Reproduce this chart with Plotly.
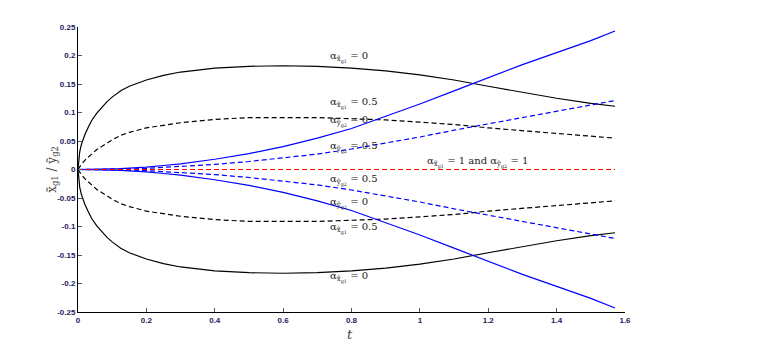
import plotly.graph_objects as go

# sample times (0 .. pi/2)
t = [0, 0.002, 0.005, 0.01, 0.02, 0.03, 0.04, 0.055, 0.07, 0.085, 0.1, 0.125, 0.15,
     0.2, 0.25, 0.3, 0.4, 0.5, 0.6, 0.7, 0.8, 0.9, 1.0, 1.1, 1.2, 1.3, 1.4, 1.5, 1.5708]

# alpha_x = 0 (solid black) and alpha_x = 0.5 (dashed black), upper branch
x_a0 = [0, 0.020, 0.031, 0.044, 0.061, 0.074, 0.086, 0.099, 0.110, 0.119, 0.127, 0.138, 0.146,
        0.157, 0.165, 0.171, 0.178, 0.181, 0.182, 0.181, 0.178, 0.173, 0.166, 0.157, 0.146,
        0.135, 0.125, 0.116, 0.111]
x_a05 = [0, 0.002, 0.005, 0.009, 0.016, 0.022, 0.027, 0.035, 0.041, 0.047, 0.052, 0.060, 0.065,
         0.073, 0.078, 0.082, 0.088, 0.091, 0.091, 0.091, 0.089, 0.087, 0.083, 0.079, 0.073,
         0.068, 0.063, 0.058, 0.055]
# alpha_y = 0 (solid blue) and alpha_y = 0.5 (dashed blue), upper branch
y_a0 = [0, 0, 0, 0, 0, 0, 0.0001, 0.0002, 0.0004, 0.0006, 0.001, 0.0015, 0.002,
        0.004, 0.007, 0.010, 0.018, 0.028, 0.040, 0.055, 0.072, 0.093, 0.115, 0.138, 0.161,
        0.184, 0.205, 0.226, 0.243]
y_a05 = [0, 0, 0, 0, 0, 0, 0, 0.0001, 0.0002, 0.0003, 0.0005, 0.0008, 0.001,
         0.002, 0.0035, 0.005, 0.009, 0.014, 0.020, 0.027, 0.036, 0.046, 0.057, 0.069, 0.080,
         0.092, 0.102, 0.113, 0.121]
# alpha = 1 : zero line
zero = [0] * len(t)

x_ticks = [0, 0.2, 0.4, 0.6, 0.8, 1, 1.2, 1.4, 1.6]
y_ticks = [-0.25, -0.2, -0.15, -0.1, -0.05, 0, 0.05, 0.1, 0.15, 0.2, 0.25]

XS = "α<sub>x̃<sub>g1</sub></sub>"
YS = "α<sub>ỹ<sub>g2</sub></sub>"
labels = [
    (0.73, 0.196, XS + " = 0"),
    (0.73, 0.116, XS + " = 0.5"),
    (0.73, 0.085, YS + " = 0"),
    (0.73, 0.039, YS + " = 0.5"),
    (1.016, 0.012, XS + " = 1 and " + YS + " = 1"),
    (0.73, -0.019, YS + " = 0.5"),
    (0.73, -0.060, YS + " = 0"),
    (0.73, -0.104, XS + " = 0.5"),
    (0.73, -0.190, XS + " = 0"),
]

fig = go.Figure()

dash = "5px,3px"
series = [
    (x_a0, "black", "solid"),
    (x_a05, "black", dash),
    (y_a0, "#0000ff", "solid"),
    (y_a05, "#0000ff", dash),
]
for vals, col, d in series:
    fig.add_trace(go.Scatter(x=t, y=vals, mode="lines", line=dict(color=col, width=1.2, dash=d)))
    fig.add_trace(go.Scatter(x=t, y=[-v for v in vals], mode="lines",
                             line=dict(color=col, width=1.2, dash=d)))

fig.add_trace(go.Scatter(x=t, y=zero, mode="lines", line=dict(color="#ff0000", width=1.1, dash=dash)))

for lx, ly, txt in labels:
    fig.add_annotation(x=lx, y=ly, text=txt, showarrow=False, xanchor="left", yanchor="middle",
                       font=dict(family="DejaVu Serif", size=10, color="#222222"))

# axis titles
fig.add_annotation(x=-0.047, y=0.5, xref="paper", yref="paper", text="x̃<sub>g1</sub> / ỹ<sub>g2</sub>",
                   textangle=-90, showarrow=False, xanchor="center", yanchor="middle",
                   font=dict(family="DejaVu Serif", size=12, color="#444444"))
fig.add_annotation(x=0.498, y=-0.078, xref="paper", yref="paper", text="<i>t</i>", showarrow=False,
                   xanchor="center", yanchor="middle",
                   font=dict(family="DejaVu Serif", size=13, color="#444444"))

tickfont = dict(family="Liberation Sans", size=8, color="#1a1a60", weight="bold")
fig.update_layout(
    width=756, height=339,
    margin=dict(l=70, r=139, t=19, b=35),
    plot_bgcolor="white", paper_bgcolor="white",
    showlegend=False,
    xaxis=dict(range=[0, 1.6], tickvals=x_ticks, ticktext=[str(v) for v in x_ticks],
               ticks="inside", ticklen=4, tickcolor="#555555", showline=True, linecolor="black",
               linewidth=1, showgrid=False, zeroline=False, tickfont=tickfont),
    yaxis=dict(range=[-0.25, 0.25], tickvals=y_ticks, ticktext=[str(v) for v in y_ticks],
               ticks="inside", ticklen=4, tickcolor="#555555", showline=True, linecolor="black",
               linewidth=1, showgrid=False, zeroline=False, tickfont=tickfont),
)

fig.write_html("out.html")
